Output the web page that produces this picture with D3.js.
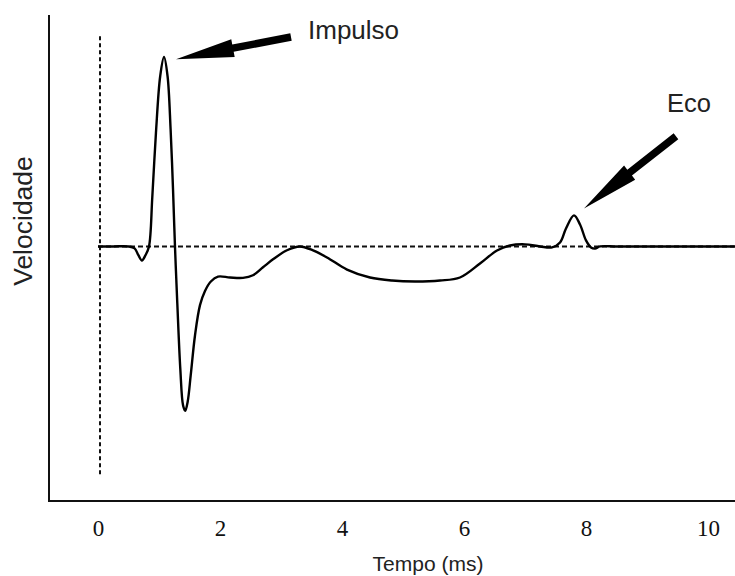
<!DOCTYPE html>
<html>
<head>
<meta charset="utf-8">
<script src="https://cdn.jsdelivr.net/npm/d3@7"></script>
<style>
  body { margin: 0; background: #fff; }
  svg { display: block; }
  .tick-label { font-family: "Liberation Serif", "Times New Roman", serif; font-size: 23px; fill: #111; }
  .axis-title { font-family: "Liberation Sans", Arial, sans-serif; fill: #222; }
</style>
</head>
<body>
<svg width="735" height="576"></svg>
<script>
// Time axis (ms) and velocity trace of the ultrasonic pulse
const timeMs = [0, 0.25, 0.5, 0.6, 0.66, 0.72, 0.78, 0.836, 0.89, 0.95, 1.02, 1.082, 1.14, 1.19, 1.23,
    1.262, 1.3, 1.35, 1.395, 1.43, 1.47, 1.52, 1.59, 1.672, 1.754, 1.85, 1.967, 2.164, 2.377, 2.54,
    2.705, 2.869, 3.098, 3.311, 3.525, 3.754, 4.082, 4.459, 4.82, 5.197, 5.607, 5.934, 6.262, 6.541, 6.754,
    7.0, 7.246, 7.443, 7.574, 7.672, 7.803, 7.902, 8.0, 8.082, 8.148, 8.23, 8.5, 9.0, 9.5, 10.0, 10.44];
const velocity = [0, 0, 0, -0.01, -0.045, -0.074, -0.045, 0, 0.26, 0.6, 0.9, 1.0, 0.9, 0.62, 0.3,
    0, -0.3, -0.65, -0.84, -0.868, -0.82, -0.68, -0.47, -0.31, -0.235, -0.185, -0.159, -0.164, -0.166, -0.152,
    -0.11, -0.068, -0.02, 0, -0.021, -0.058, -0.122, -0.164, -0.18, -0.185, -0.18, -0.164, -0.09, -0.021, 0.005,
    0.011, 0, -0.005, 0.021, 0.095, 0.164, 0.116, 0.032, -0.005, -0.011, 0, 0, 0, 0, 0, 0];
const tickValues = [0, 2, 4, 6, 8, 10];

// Annotations: label, arrow tail and tip in data units
const labels = ["Impulso", "Eco"];
const arrowTails = [[3.164, 1.106], [9.475, 0.582]];
const arrowTips = [[1.279, 0.989], [7.967, 0.201]];

const svg = d3.select("svg");

const x = d3.scaleLinear().domain([0, 10]).range([98, 708]);
const y = d3.scaleLinear().domain([-1.344, 1.222]).range([501, 15]);

// Axes frame (left and bottom only)
svg.append("line")
    .attr("x1", 49).attr("x2", 49)
    .attr("y1", y.range()[1]).attr("y2", y.range()[0] + 1)
    .attr("stroke", "#111").attr("stroke-width", 2);
svg.append("line")
    .attr("x1", 48).attr("x2", 735)
    .attr("y1", y.range()[0]).attr("y2", y.range()[0])
    .attr("stroke", "#111").attr("stroke-width", 2);

// Tick labels, no tick marks
const xAxis = d3.axisBottom(x).tickValues(tickValues).tickSize(0).tickPadding(0).tickFormat(d3.format("d"));
const gx = svg.append("g").attr("transform", `translate(0,${y.range()[0]})`).call(xAxis);
gx.select(".domain").remove();
gx.selectAll("text")
    .attr("class", "tick-label")
    .attr("dy", 0).attr("y", 35);
gx.attr("font-size", null).attr("font-family", null);

// Dashed reference lines: time zero and zero velocity
svg.append("line")
    .attr("x1", x(0) + 2).attr("x2", x(0) + 2)
    .attr("y1", y(1.11)).attr("y2", y(-1.21))
    .attr("stroke", "#111").attr("stroke-width", 2)
    .attr("stroke-dasharray", "4,3");
svg.append("line")
    .attr("x1", x(0)).attr("x2", 735)
    .attr("y1", y(0)).attr("y2", y(0))
    .attr("stroke", "#111").attr("stroke-width", 2)
    .attr("stroke-dasharray", "5,3");

// Velocity trace
const trace = timeMs.map((t, i) => [t, velocity[i]]);
const line = d3.line()
    .x(d => x(d[0]))
    .y(d => y(d[1]))
    .curve(d3.curveCatmullRom.alpha(0.5));
svg.append("path")
    .datum(trace)
    .attr("d", line)
    .attr("fill", "none")
    .attr("stroke", "#000")
    .attr("stroke-width", 2.4)
    .attr("stroke-linejoin", "round");

// Arrow polygon from tail to tip
function arrowPoints(tail, tip, shaftW, headW, headLen) {
    const x0 = x(tail[0]), y0 = y(tail[1]);
    const x1 = x(tip[0]), y1 = y(tip[1]);
    const len = Math.hypot(x1 - x0, y1 - y0);
    const ux = (x1 - x0) / len, uy = (y1 - y0) / len;
    const nx = -uy, ny = ux;
    const bx = x1 - ux * headLen, by = y1 - uy * headLen;
    return [
        [x0 + nx * shaftW / 2, y0 + ny * shaftW / 2],
        [bx + nx * shaftW / 2, by + ny * shaftW / 2],
        [bx + nx * headW, by + ny * headW],
        [x1, y1],
        [bx - nx * headW, by - ny * headW],
        [bx - nx * shaftW / 2, by - ny * shaftW / 2],
        [x0 - nx * shaftW / 2, y0 - ny * shaftW / 2]
    ].map(p => p.join(",")).join(" ");
}

svg.selectAll(".arrow")
    .data(arrowTips)
    .join("polygon")
    .attr("class", "arrow")
    .attr("points", (d, i) => arrowPoints(arrowTails[i], d, 7.5, 9, 58))
    .attr("fill", "#000");

// Annotation labels
svg.append("text")
    .attr("class", "axis-title")
    .attr("x", 308).attr("y", 39)
    .style("font-size", "26px")
    .text(labels[0]);
svg.append("text")
    .attr("class", "axis-title")
    .attr("x", 667).attr("y", 112)
    .style("font-size", "25.5px")
    .text(labels[1]);

// Axis titles
svg.append("text")
    .attr("class", "axis-title")
    .attr("text-anchor", "middle")
    .attr("x", 428).attr("y", 571)
    .style("font-size", "21px")
    .text("Tempo (ms)");
svg.append("text")
    .attr("class", "axis-title")
    .attr("text-anchor", "middle")
    .attr("transform", "translate(32,221) rotate(-90)")
    .style("font-size", "26.5px")
    .text("Velocidade");
</script>
</body>
</html>
